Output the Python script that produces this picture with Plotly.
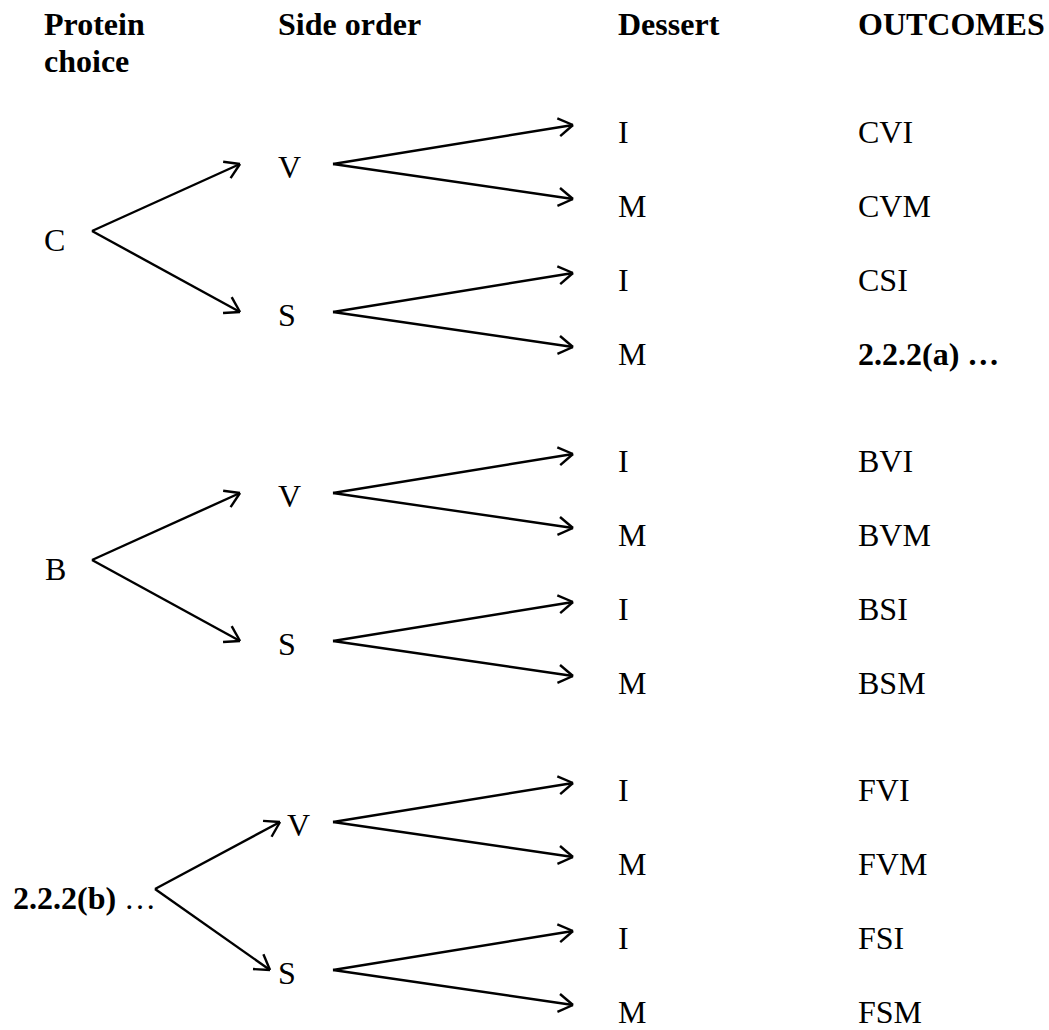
import math
import plotly.graph_objects as go

# ---------------- data (labels of the tree) ----------------
header_labels = ["Protein choice", "Side order", "Dessert", "OUTCOMES"]
protein_labels = ["C", "B", "<b>2.2.2(b)</b> …"]
side_labels = ["V", "S"]
dessert_labels = ["I", "M"]
outcome_labels = ["CVI", "CVM", "CSI", "<b>2.2.2(a) …</b>",
                  "BVI", "BVM", "BSI", "BSM",
                  "FVI", "FVM", "FSI", "FSM"]

# ---------------- layout constants (pixels) ----------------
W, H = 1049, 1030
FONT = "Liberation Serif"
FS = 32
ROW0 = 132
ROW_STEP = 74
GROUP_STEP = 329
HEADER_X = [43, 277, 617, 857]
HEADER_Y = 24
HEADER_LINE2_Y = 61
X_PROTEIN_TEXT = [43, 44, 12]
X_PROTEIN_VERTEX = [92, 92, 155]
X_SIDE_TIP = [(240, 240), (240, 240), (280, 270)]
X_SIDE_TEXT = [(277, 277), (277, 277), (286, 277)]
X_SIDE_VERTEX = 333
X_DESSERT_TIP = 573
X_DESSERT_TEXT = 617
X_OUTCOME_TEXT = 857
HEAD_LEN = 17
HEAD_ANG = math.radians(32)
LINE_W = 2.4

seg_x, seg_y = [], []


def arrow(x0, y0, x1, y1):
    seg_x.extend([x0, x1, None])
    seg_y.extend([y0, y1, None])
    bx, by = x0 - x1, y0 - y1
    n = math.hypot(bx, by)
    bx, by = bx / n, by / n
    for s in (1, -1):
        c, si = math.cos(s * HEAD_ANG), math.sin(s * HEAD_ANG)
        ax = bx * c - by * si
        ay = bx * si + by * c
        seg_x.extend([x1 + HEAD_LEN * ax, x1, None])
        seg_y.extend([y1 + HEAD_LEN * ay, y1, None])


annotations = []


def label(text, x, y, bold=False):
    annotations.append(dict(
        x=x, y=y, xref="x", yref="y", text=("<b>%s</b>" % text) if bold else text,
        showarrow=False, xanchor="left", yanchor="middle",
        font=dict(family=FONT, size=FS, color="black"), borderpad=0))


# headers
first, second = header_labels[0].split(" ")
label(first, HEADER_X[0], HEADER_Y, bold=True)
label(second, HEADER_X[0], HEADER_LINE2_Y, bold=True)
for i in range(1, len(header_labels)):
    label(header_labels[i], HEADER_X[i], HEADER_Y, bold=True)

oi = 0
for g, plabel in enumerate(protein_labels):
    rows = [ROW0 + g * GROUP_STEP + k * ROW_STEP for k in range(4)]
    py = sum(rows) / 4 - 3
    label(plabel, X_PROTEIN_TEXT[g], py)
    for s, slabel in enumerate(side_labels):
        pair = rows[2 * s:2 * s + 2]
        sy = sum(pair) / 2 - 2
        label(slabel, X_SIDE_TEXT[g][s], sy)
        arrow(X_PROTEIN_VERTEX[g], py - 9, X_SIDE_TIP[g][s], sy - 3)
        for d, dlabel in enumerate(dessert_labels):
            dy = pair[d]
            label(dlabel, X_DESSERT_TEXT, dy)
            arrow(X_SIDE_VERTEX, sy - 3, X_DESSERT_TIP, dy - 7)
            label(outcome_labels[oi], X_OUTCOME_TEXT, dy)
            oi += 1

fig = go.Figure()
fig.add_trace(go.Scatter(x=seg_x, y=seg_y, mode="lines",
                         line=dict(color="black", width=LINE_W),
                         hoverinfo="skip", showlegend=False, cliponaxis=False))

fig.update_layout(
    width=W, height=H,
    margin=dict(l=0, r=0, t=0, b=0),
    paper_bgcolor="white", plot_bgcolor="white",
    xaxis=dict(range=[0, W], visible=False, fixedrange=True),
    yaxis=dict(range=[H, 0], visible=False, fixedrange=True),
    annotations=annotations,
    showlegend=False,
)

fig.write_html("out.html", config={"displayModeBar": False},
               post_script="document.body.style.margin='0';document.body.style.overflow='hidden';")
